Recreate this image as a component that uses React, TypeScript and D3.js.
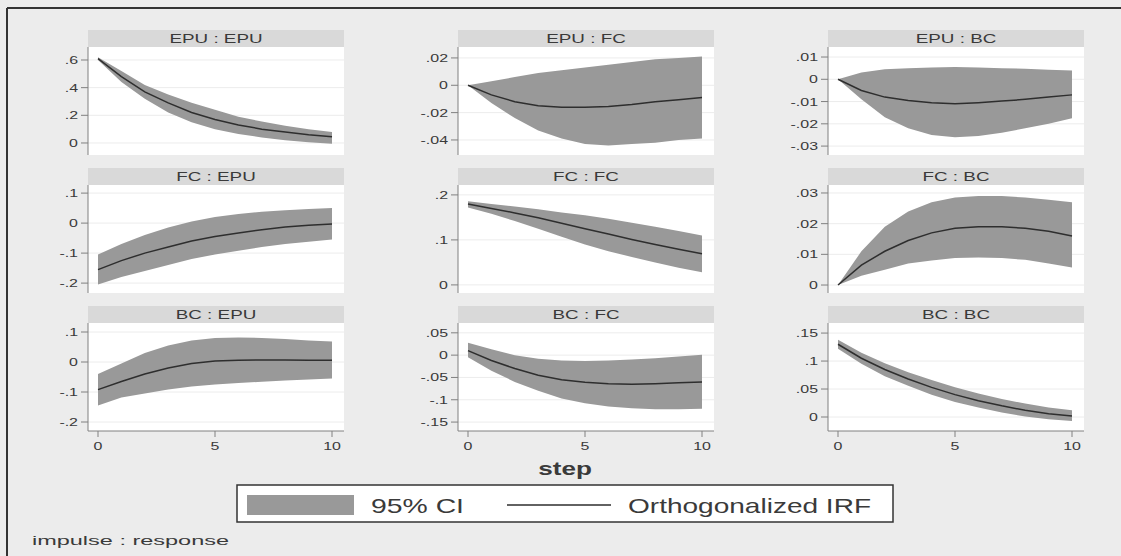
import React, { useEffect, useRef } from "react";
import * as d3 from "d3";

const W = 1121;
const H = 556;

const steps = [0, 1, 2, 3, 4, 5, 6, 7, 8, 9, 10];
const xTicks = [0, 5, 10];
const names = ["EPU", "FC", "BC"];

// impulse EPU
const irfEpuEpu = [0.61, 0.48, 0.37, 0.29, 0.22, 0.17, 0.13, 0.1, 0.08, 0.06, 0.045];
const loEpuEpu = [0.6, 0.44, 0.32, 0.22, 0.15, 0.1, 0.065, 0.04, 0.02, 0.005, -0.005];
const hiEpuEpu = [0.62, 0.52, 0.42, 0.35, 0.29, 0.24, 0.19, 0.155, 0.125, 0.1, 0.08];

const irfEpuFc = [0, -0.007, -0.012, -0.015, -0.016, -0.016, -0.0155, -0.014, -0.012, -0.0105, -0.009];
const loEpuFc = [0, -0.013, -0.024, -0.033, -0.039, -0.043, -0.044, -0.043, -0.042, -0.04, -0.039];
const hiEpuFc = [0, 0.003, 0.006, 0.009, 0.011, 0.013, 0.015, 0.017, 0.019, 0.02, 0.021];

const irfEpuBc = [0, -0.005, -0.008, -0.0095, -0.0105, -0.011, -0.0105, -0.0098, -0.009, -0.008, -0.007];
const loEpuBc = [0, -0.009, -0.017, -0.022, -0.025, -0.026, -0.0255, -0.024, -0.022, -0.02, -0.0175];
const hiEpuBc = [0, 0.003, 0.0045, 0.005, 0.0053, 0.0055, 0.0053, 0.005, 0.0047, 0.0043, 0.004];

// impulse FC
const irfFcEpu = [-0.155, -0.125, -0.1, -0.08, -0.06, -0.045, -0.033, -0.022, -0.013, -0.007, -0.003];
const loFcEpu = [-0.205, -0.18, -0.16, -0.14, -0.12, -0.105, -0.092, -0.08, -0.07, -0.062, -0.055];
const hiFcEpu = [-0.105, -0.07, -0.04, -0.015, 0.005, 0.02, 0.03, 0.038, 0.043, 0.047, 0.05];

const irfFcFc = [0.18, 0.17, 0.16, 0.149, 0.137, 0.125, 0.113, 0.101, 0.09, 0.079, 0.069];
const loFcFc = [0.172, 0.158, 0.142, 0.125, 0.107, 0.09, 0.075, 0.062, 0.05, 0.038, 0.028];
const hiFcFc = [0.186, 0.18, 0.174, 0.168, 0.161, 0.155, 0.147, 0.138, 0.129, 0.12, 0.11];

const irfFcBc = [0, 0.0065, 0.011, 0.0145, 0.017, 0.0185, 0.019, 0.019, 0.0185, 0.0175, 0.016];
const loFcBc = [0, 0.003, 0.005, 0.007, 0.008, 0.0088, 0.009, 0.0088, 0.0082, 0.007, 0.0057];
const hiFcBc = [0, 0.011, 0.019, 0.024, 0.027, 0.0285, 0.029, 0.029, 0.0285, 0.0278, 0.027];

// impulse BC
const irfBcEpu = [-0.092, -0.065, -0.04, -0.02, -0.005, 0.003, 0.006, 0.007, 0.007, 0.006, 0.006];
const loBcEpu = [-0.145, -0.118, -0.105, -0.092, -0.082, -0.075, -0.07, -0.066, -0.062, -0.058, -0.055];
const hiBcEpu = [-0.04, -0.005, 0.03, 0.055, 0.072, 0.08, 0.082, 0.08, 0.077, 0.072, 0.068];

const irfBcFc = [0.01, -0.012, -0.03, -0.045, -0.055, -0.061, -0.064, -0.065, -0.064, -0.062, -0.06];
const loBcFc = [-0.005, -0.035, -0.06, -0.08, -0.097, -0.108, -0.115, -0.119, -0.121, -0.121, -0.12];
const hiBcFc = [0.028, 0.013, 0.0, -0.008, -0.012, -0.013, -0.012, -0.01, -0.007, -0.003, 0.001];

const irfBcBc = [0.13, 0.105, 0.085, 0.068, 0.053, 0.04, 0.029, 0.02, 0.012, 0.006, 0.002];
const loBcBc = [0.122, 0.095, 0.073, 0.056, 0.04, 0.027, 0.017, 0.008, 0.001, -0.004, -0.007];
const hiBcBc = [0.138, 0.115, 0.096, 0.08, 0.066, 0.053, 0.042, 0.032, 0.024, 0.017, 0.012];

// y ticks and y ranges (bottom, top) of each panel
const ticksEpuEpu = [0, 0.2, 0.4, 0.6];
const ticksEpuFc = [-0.04, -0.02, 0, 0.02];
const ticksEpuBc = [-0.03, -0.02, -0.01, 0, 0.01];
const ticksFcEpu = [-0.2, -0.1, 0, 0.1];
const ticksFcFc = [0, 0.1, 0.2];
const ticksFcBc = [0, 0.01, 0.02, 0.03];
const ticksBcEpu = [-0.2, -0.1, 0, 0.1];
const ticksBcFc = [-0.15, -0.1, -0.05, 0, 0.05];
const ticksBcBc = [0, 0.05, 0.1, 0.15];

const domEpuEpu = [-0.087, 0.694];
const domEpuFc = [-0.051, 0.028];
const domEpuBc = [-0.034, 0.0145];
const domFcEpu = [-0.233, 0.127];
const domFcFc = [-0.018, 0.222];
const domFcBc = [-0.0026, 0.0326];
const domBcEpu = [-0.23, 0.13];
const domBcFc = [-0.17, 0.072];
const domBcBc = [-0.025, 0.168];

const panels = [
  [irfEpuEpu, loEpuEpu, hiEpuEpu, ticksEpuEpu, domEpuEpu],
  [irfEpuFc, loEpuFc, hiEpuFc, ticksEpuFc, domEpuFc],
  [irfEpuBc, loEpuBc, hiEpuBc, ticksEpuBc, domEpuBc],
  [irfFcEpu, loFcEpu, hiFcEpu, ticksFcEpu, domFcEpu],
  [irfFcFc, loFcFc, hiFcFc, ticksFcFc, domFcFc],
  [irfFcBc, loFcBc, hiFcBc, ticksFcBc, domFcBc],
  [irfBcEpu, loBcEpu, hiBcEpu, ticksBcEpu, domBcEpu],
  [irfBcFc, loBcFc, hiBcFc, ticksBcFc, domBcFc],
  [irfBcBc, loBcBc, hiBcBc, ticksBcBc, domBcBc],
].map((p: any, i) => ({
  impulse: names[Math.floor(i / 3)],
  response: names[i % 3],
  row: Math.floor(i / 3),
  col: i % 3,
  irf: p[0],
  lo: p[1],
  hi: p[2],
  ticks: p[3],
  domain: p[4],
}));

// stata style labels: .02, -.1, 0
const fmt = (v: number) =>
  v === 0 ? "0" : String(+v.toFixed(4)).replace(/^(-?)0\./, "$1.");

const FONT = "'Liberation Sans', Arial, sans-serif";
const BG = "#ececec";
const BAND = "#999999";
const LINE = "#2e2e2e";
const TXT = "#3a3a3a";

const colX = [88, 458, 828];
const rowY = [30, 168, 306];
const plotW = 256;
const titleH = 17;
const plotH = 108;

function stext(g: any, x: number, y: number, str: string, size: number, anchor: string, sx: number, weight = "normal") {
  return g
    .append("text")
    .attr("transform", `translate(${x},${y}) scale(${sx},1)`)
    .attr("text-anchor", anchor)
    .attr("font-family", FONT)
    .attr("font-size", size)
    .attr("font-weight", weight)
    .attr("fill", TXT)
    .text(str);
}

export default function App() {
  const ref = useRef<SVGSVGElement>(null);

  useEffect(() => {
    const svg = d3.select(ref.current);
    svg.selectAll("*").remove();

    svg.append("rect").attr("width", W).attr("height", H).attr("fill", BG);

    // outer frame
    svg.append("line").attr("x1", 7).attr("x2", W).attr("y1", 8).attr("y2", 8).attr("stroke", "#333").attr("stroke-width", 2);
    svg.append("line").attr("x1", 7).attr("x2", 7).attr("y1", 8).attr("y2", H).attr("stroke", "#333").attr("stroke-width", 2);

    panels.forEach((p) => {
      const x0 = colX[p.col];
      const tTop = rowY[p.row];
      const pTop = tTop + titleH;
      const pBot = pTop + plotH;
      const g = svg.append("g");

      // title bar
      g.append("rect").attr("x", x0).attr("y", tTop).attr("width", plotW).attr("height", titleH).attr("fill", "#d9d9d9");
      stext(g, x0 + plotW / 2, tTop + 13, `${p.impulse} : ${p.response}`, 13, "middle", 1.45);

      // plot area
      g.append("rect").attr("x", x0).attr("y", pTop).attr("width", plotW).attr("height", plotH).attr("fill", "#fff");

      const x = d3.scaleLinear().domain([0, 10]).range([x0 + 10, x0 + plotW - 12]);
      const y = d3.scaleLinear().domain(p.domain).range([pBot, pTop]);

      // grid
      g.selectAll(".grid")
        .data(p.ticks)
        .enter()
        .append("line")
        .attr("x1", x0)
        .attr("x2", x0 + plotW)
        .attr("y1", (d: number) => y(d))
        .attr("y2", (d: number) => y(d))
        .attr("stroke", "#ececec")
        .attr("stroke-width", 1);

      const area = d3
        .area<number>()
        .x((d) => x(d))
        .y0((d) => y(p.lo[d]))
        .y1((d) => y(p.hi[d]));
      g.append("path").attr("d", area(steps)).attr("fill", BAND);

      const line = d3
        .line<number>()
        .x((d) => x(d))
        .y((d) => y(p.irf[d]));
      g.append("path").attr("d", line(steps)).attr("fill", "none").attr("stroke", LINE).attr("stroke-width", 1.5);

      // y axis
      g.append("line").attr("x1", x0).attr("x2", x0).attr("y1", pTop).attr("y2", pBot).attr("stroke", "#808080");
      p.ticks.forEach((t: number) => {
        g.append("line").attr("x1", x0 - 7).attr("x2", x0).attr("y1", y(t)).attr("y2", y(t)).attr("stroke", "#808080");
        stext(g, x0 - 10, y(t) + 4, fmt(t), 11, "end", 1.45);
      });

      // x axis only on bottom row
      if (p.row === 2) {
        g.append("line").attr("x1", x0).attr("x2", x0 + plotW).attr("y1", pBot).attr("y2", pBot).attr("stroke", "#808080");
        xTicks.forEach((t) => {
          g.append("line").attr("x1", x(t)).attr("x2", x(t)).attr("y1", pBot).attr("y2", pBot + 6).attr("stroke", "#808080");
          stext(g, x(t), pBot + 19, String(t), 11, "middle", 1.45);
        });
      }
    });

    stext(svg, 565, 475, "step", 18, "middle", 1.45, "bold");

    // legend
    const lg = svg.append("g");
    lg.append("rect").attr("x", 237).attr("y", 485).attr("width", 656).attr("height", 37).attr("fill", "#fff").attr("stroke", "#333").attr("stroke-width", 1.5);
    lg.append("rect").attr("x", 247).attr("y", 495).attr("width", 107).attr("height", 20).attr("fill", BAND);
    lg.append("text").attr("x", 371).attr("y", 513).attr("font-family", FONT).attr("font-size", 21).attr("fill", TXT)
      .attr("textLength", 93).attr("lengthAdjust", "spacingAndGlyphs").text("95% CI");
    lg.append("line").attr("x1", 507).attr("x2", 611).attr("y1", 505).attr("y2", 505).attr("stroke", LINE).attr("stroke-width", 1.5);
    lg.append("text").attr("x", 628).attr("y", 513).attr("font-family", FONT).attr("font-size", 21).attr("fill", TXT)
      .attr("textLength", 243).attr("lengthAdjust", "spacingAndGlyphs").text("Orthogonalized IRF");

    svg.append("text").attr("x", 32).attr("y", 545).attr("font-family", FONT).attr("font-size", 13).attr("fill", TXT)
      .attr("textLength", 197).attr("lengthAdjust", "spacingAndGlyphs").text("impulse : response");
  }, []);

  return (
    <div style={{ position: "absolute", left: 0, top: 0 }}>
      <svg ref={ref} width={W} height={H}></svg>
    </div>
  );
}
